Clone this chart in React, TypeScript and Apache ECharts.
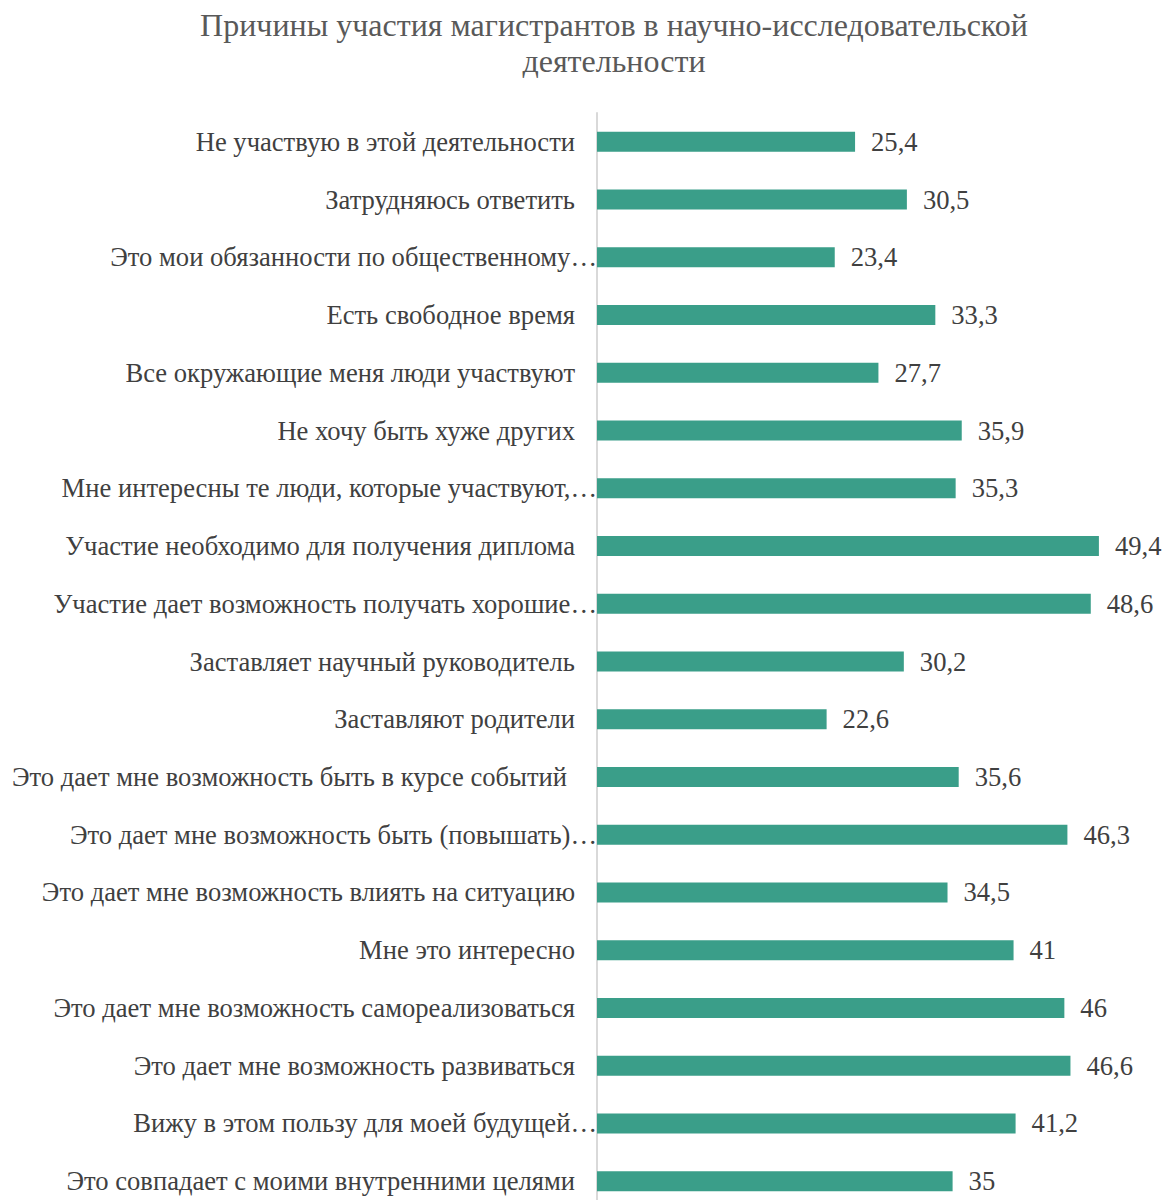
import React, { useEffect, useRef } from "react";
import * as echarts from "echarts";

const titleText = "Причины участия магистрантов в научно-исследовательской\nдеятельности";

const categories = [
  "Не участвую в этой деятельности",
  "Затрудняюсь ответить",
  "Это мои обязанности по общественному…",
  "Есть свободное время",
  "Все окружающие меня люди участвуют",
  "Не хочу быть хуже других",
  "Мне интересны те люди, которые участвуют,…",
  "Участие необходимо для получения диплома",
  "Участие дает возможность получать хорошие…",
  "Заставляет научный руководитель",
  "Заставляют родители",
  "Это дает мне возможность быть в курсе событий ",
  "Это дает мне возможность быть (повышать)…",
  "Это дает мне возможность влиять на ситуацию",
  "Мне это интересно",
  "Это дает мне возможность самореализоваться",
  "Это дает мне возможность развиваться",
  "Вижу в этом пользу для моей будущей…",
  "Это совпадает с моими внутренними целями",
];

const values = [
  25.4, 30.5, 23.4, 33.3, 27.7, 35.9, 35.3, 49.4, 48.6, 30.2, 22.6, 35.6, 46.3,
  34.5, 41, 46, 46.6, 41.2, 35,
];

const FONT = "'Liberation Serif', 'Times New Roman', serif";
const FS = 26.6;

export default function App() {
  const ref = useRef<HTMLDivElement>(null);
  useEffect(() => {
    if (!ref.current) return;
    const chart = echarts.init(ref.current, null, { renderer: "svg" });
    chart.setOption({
      animation: false,
      backgroundColor: "#ffffff",
      graphic: [
        {
          type: "text",
          x: 614,
          y: 7,
          style: {
            text: titleText,
            font: `32px ${FONT}`,
            fill: "#595959",
            align: "center",
            verticalAlign: "top",
            lineHeight: 36,
          },
        },
      ],
      grid: { left: 597, right: 60, top: 113, bottom: 10 },
      xAxis: {
        type: "value",
        min: 0,
        max: 50,
        show: false,
        splitLine: { show: false },
      },
      yAxis: {
        type: "category",
        inverse: true,
        data: categories,
        axisLine: { show: true, lineStyle: { color: "#d9d9d9", width: 2 } },
        axisTick: { show: false },
        axisLabel: {
          margin: 0,
          fontFamily: FONT,
          fontSize: FS,
          color: "#404040",
          formatter: (v: string) => {
            if (v.endsWith("…")) return `{a|${v}}`;
            if (v.endsWith(" ")) return `{a|${v.trim()}}{s| }{t| }`;
            return `{a|${v}}{s| }`;
          },
          rich: {
            a: { fontFamily: FONT, fontSize: FS, color: "#404040" },
            s: { width: 22, fontSize: FS },
            t: { width: 8, fontSize: FS },
          },
        },
      },
      series: [
        {
          type: "bar",
          data: values,
          barWidth: 20,
          itemStyle: { color: "#3a9e89" },
          label: {
            show: true,
            position: "right",
            distance: 16,
            fontFamily: FONT,
            fontSize: FS,
            color: "#404040",
            formatter: (p: any) => String(p.value).replace(".", ","),
          },
        },
      ],
    });
    return () => chart.dispose();
  }, []);
  return (
    <div
      ref={ref}
      style={{ position: "absolute", left: 0, top: 0, width: 1165, height: 1220 }}
    />
  );
}
